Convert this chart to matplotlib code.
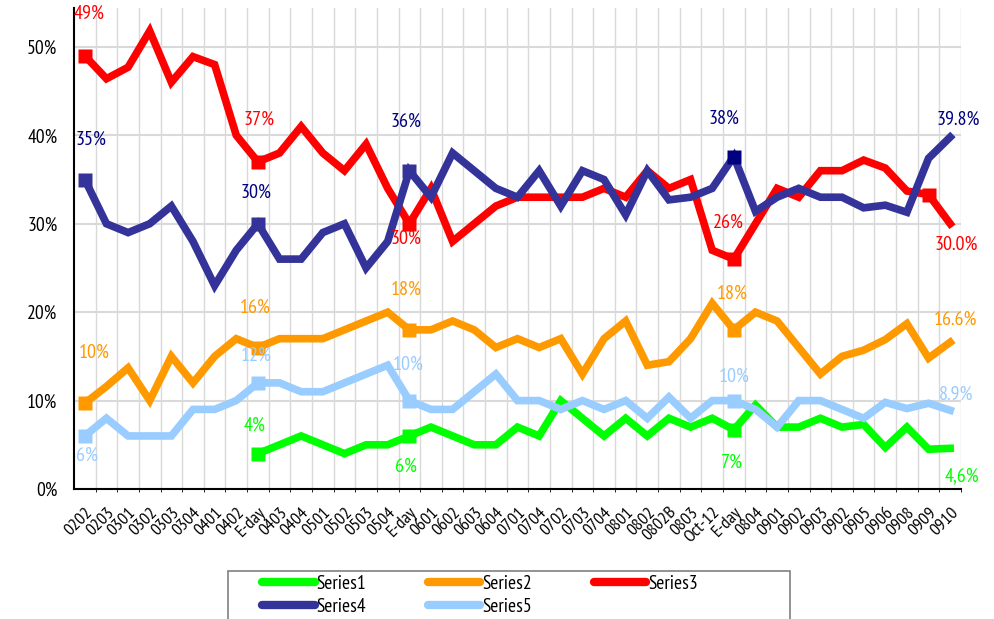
import matplotlib.pyplot as plt
import numpy as np
from matplotlib.patches import Rectangle
from matplotlib.ticker import FixedLocator, FuncFormatter

plt.rcParams['font.family'] = ['PT Sans Narrow', 'DejaVu Sans']

periods = ['0202', '0203', '0301', '0302', '0303', '0304', '0401', '0402', 'E-day',
           '0403', '0404', '0501', '0502', '0503', '0504', 'E-day', '0601', '0602',
           '0603', '0604', '0701', '0704', '0702', '0703', '0704', '0801', '0802',
           '0802B', '0803', 'Oct-12', 'E-day', '0804', '0901', '0902', '0903', '0902',
           '0905', '0906', '0908', '0909', '0910']

# Series1 starts at the first E-day
series1 = [None] * 8 + [4, 5, 6, 5, 4, 5, 5, 6, 7, 6, 5, 5, 7, 6, 10, 8, 6, 8, 6, 8,
                        7, 8, 6.7, 9.5, 7, 7, 8, 7, 7.3, 4.7, 7, 4.5, 4.6]
series2 = [9.7, 11.6, 13.7, 10, 15, 12, 15, 17, 16, 17, 17, 17, 18, 19, 20, 18, 18, 19,
           18, 16, 17, 16, 17, 13, 17, 19, 14, 14.4, 17, 21, 18, 20, 19, 16, 13, 15,
           15.7, 16.9, 18.7, 14.8, 16.6]
series3 = [49, 46.4, 47.7, 51.8, 46, 48.9, 48, 40, 37, 38, 41, 38, 36, 39, 34, 30, 34,
           28, 30, 32, 33, 33, 33, 33, 34, 33, 36, 34, 35, 27, 26, 30, 34, 33, 36, 36,
           37.2, 36.3, 33.7, 33.3, 30.0]
series4 = [35, 30, 29, 30, 32, 28, 23, 27, 30, 26, 26, 29, 30, 25, 28, 36, 33, 38, 36,
           34, 33, 36, 32, 36, 35, 31, 36, 32.7, 33, 34, 37.6, 31.4, 33, 34, 33, 33,
           31.8, 32.1, 31.3, 37.4, 39.8]
series5 = [6, 8, 6, 6, 6, 9, 9, 10, 12, 12, 11, 11, 12, 13, 14, 10, 9, 9, 11, 13, 10,
           10, 9, 10, 9, 10, 8, 10.4, 8, 10, 10, 9, 7, 10, 10, 9, 8, 9.8, 9.1, 9.7, 8.9]

names = ['Series1', 'Series2', 'Series3', 'Series4', 'Series5']
colors = ['#00FF00', '#FF9900', '#FF0000', '#333399', '#99CCFF']
all_series = [series1, series2, series3, series4, series5]

# points with square markers
marked = {0: [8, 15, 30],
          1: [0, 8, 15, 30],
          2: [0, 8, 15, 30, 39],
          3: [0, 8, 15, 30],
          4: [0, 8, 15, 30]}

# (index, text, dx px, dy px)
labels = {
    0: [(8, '4%', -3, 28), (15, '6%', -3, -31), (30, '7%', -2, -33), (40, '4,6%', 12, -28)],
    1: [(0, '10%', 9, 50), (8, '16%', -3, 40), (15, '18%', -3, 40), (30, '18%', -2, 36),
        (40, '16.6%', 5, 22)],
    2: [(0, '49%', 4, 42), (8, '37%', 1, 42), (15, '30%', -3, -15), (30, '26%', -5, 36),
        (40, '30.0%', 6, -21)],
    3: [(0, '35%', 6, 40), (8, '30%', -2, 31), (15, '36%', -3, 49), (30, '38%', -10, 38),
        (40, '39.8%', 8, 17)],
    4: [(0, '6%', 2, -20), (8, '12%', -2, 27), (15, '10%', -1, 36), (30, '10%', 0, 24),
        (40, '8.9%', 6, 16)],
}

fig = plt.figure(figsize=(9.95, 6.19), dpi=100)
ax = fig.add_axes([74 / 995, 1 - 489 / 619, (961 - 74) / 995, (489 - 8) / 619])

x = np.arange(len(periods))
handles = []
for i, (name, col, vals) in enumerate(zip(names, colors, all_series)):
    y = np.array([np.nan if v is None else v for v in vals], dtype=float)
    h, = ax.plot(x, y, color=col, lw=5.5, solid_joinstyle='miter', label=name, zorder=3)
    handles.append(h)
    for k in marked[i]:
        ax.plot(x[k], y[k], marker='s', ms=10, color='#000080' if (i == 3 and k == 30) else col,
                mec='none', zorder=4)
    for k, txt, dx, dy in labels[i]:
        ax.annotate(txt, (x[k], y[k]), xytext=(dx * 0.72, dy * 0.72),
                    textcoords='offset points', ha='center', va='center',
                    fontsize=14.5, color='#000080' if i == 3 else col, zorder=5)

ax.set_xlim(-0.5, len(periods) - 0.5)
ax.set_ylim(0, 54.4)
ax.set_yticks(np.arange(0, 51, 10))
ax.yaxis.set_major_formatter(FuncFormatter(lambda v, p: f'{v:.0f}%'))
ax.set_xticks(x)
ax.set_xticklabels(periods, rotation=45, ha='right', rotation_mode='anchor', fontsize=13)
ax.xaxis.set_minor_locator(FixedLocator(np.arange(0.5, len(periods), 1)))
ax.tick_params(axis='both', length=0)
ax.tick_params(axis='x', pad=11)
ax.tick_params(axis='y', labelsize=14, pad=12)
ax.grid(which='minor', axis='x', color='#D9D9D9', lw=1)
ax.grid(which='major', axis='y', color='#D9D9D9', lw=1.5)
ax.set_axisbelow(True)
for s in ['top', 'right']:
    ax.spines[s].set_visible(False)
ax.spines['left'].set_linewidth(1.5)
ax.spines['bottom'].set_linewidth(1.5)

# legend box (runs off the bottom edge like the original)
fig.patches.append(Rectangle((228 / 995, -0.02), 562 / 995, 1 - 571 / 619 + 0.02,
                             transform=fig.transFigure, facecolor='white',
                             edgecolor='#808080', lw=1.2))

# row-wise legend order: Series1 Series2 Series3 / Series4 Series5
order = [0, 3, 1, 4, 2]
leg = fig.legend([handles[j] for j in order], [names[j] for j in order],
                 loc='upper left', bbox_to_anchor=(262 / 995, 1 - 575 / 619, 436 / 995, 0),
                 mode='expand', ncol=3, fontsize=14, frameon=False,
                 handlelength=2.7, handletextpad=0.1, borderpad=0,
                 labelspacing=0.25, borderaxespad=0)
for h in leg.get_lines():
    h.set_linewidth(6)
    h.set_solid_capstyle('round')

fig.savefig('out.png', dpi=100)
